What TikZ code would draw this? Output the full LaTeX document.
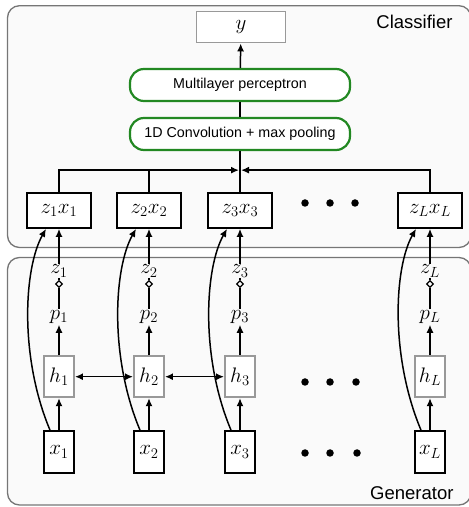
\documentclass[tikz,border=0pt]{standalone}
\usepackage{fix-cm}
\usepackage{fontspec}
\setsansfont{Liberation Sans}
\usetikzlibrary{positioning,arrows.meta,shapes.geometric}
\definecolor{layergreen}{RGB}{34,136,34}
\definecolor{panelgray}{RGB}{118,118,118}
\newcommand{\bigmath}{\fontsize{21}{25}\selectfont}
\tikzset{
  >={Latex[length=8pt,width=7pt]},
  panel/.style={
    draw=panelgray, line width=1.3pt,
    fill=black!2,
    rounded corners=12pt},
  panellabel/.style={anchor=east, font=\sffamily\fontsize{18.5}{21}\selectfont},
  pairbox/.style={
    rectangle, draw=black, line width=1.7pt, fill=white,
    minimum width=64pt, minimum height=35pt,
    inner sep=0pt, font=\bigmath},
  inbox/.style={pairbox, minimum width=30pt, minimum height=42pt},
  hidbox/.style={pairbox, draw=black!40, line width=1.9pt,
    minimum width=30pt, minimum height=41pt},
  outbox/.style={hidbox, minimum width=89pt, minimum height=31pt},
  layer/.style={
    rectangle, rounded corners=14pt,
    draw=layergreen, line width=2.2pt, fill=white,
    minimum width=220pt, minimum height=32pt,
    font=\sffamily\fontsize{14.3}{17}\selectfont},
  varlab/.style={inner sep=1pt, font=\bigmath},
  sel/.style={diamond, draw=black, line width=1.1pt, fill=white,
    minimum size=7pt, inner sep=0pt},
  edot/.style={circle, fill=black, minimum size=7.5pt, inner sep=0pt},
  link/.style={draw, line width=1.5pt},
}
\begin{document}
\begin{tikzpicture}[x=1pt,y=1pt]
\useasboundingbox (0,0) rectangle (469,507);
% panels
\draw[panel] (7.5,259.5) rectangle (471,501.3);
\draw[panel] (7.5,2) rectangle (471,249.5);
\node[panellabel] (cls) at (456,485) {Classifier};
\node[panellabel] (gen) at (457,14) {Generator};

% classifier
\node[outbox] (y) at (241,480) {$y$};
\node[layer] (mlp) at (240,422) {Multilayer perceptron};
\node[layer] (conv) at (240,373) {1D Convolution + max pooling};
\node[pairbox] (zx1) at (59,296.5) {$z_1x_1$};
\node[pairbox] (zx2) at (149,296.5) {$z_2x_2$};
\node[pairbox] (zx3) at (240,296.5) {$z_3x_3$};
\node[pairbox] (zxL) at (430,296.5) {$z_Lx_L$};
\node[edot] (ca) at (305,304) {};
\node[edot] (cb) at (330,304) {};
\node[edot] (cc) at (355,304) {};
\coordinate[above=22pt of zx3.north] (bus);

% generator
\node[inbox] (x1) at (59,55) {$x_1$};
\node[inbox] (x2) at (149,55) {$x_2$};
\node[inbox] (x3) at (240,55) {$x_3$};
\node[inbox] (xL) at (430,55) {$x_L$};
\node[hidbox, above=32pt of x1] (h1) {$h_1$};
\node[hidbox, above=32pt of x2] (h2) {$h_2$};
\node[hidbox, above=32pt of x3] (h3) {$h_3$};
\node[hidbox, above=32pt of xL] (hL) {$h_L$};
\node[edot] (ha) at (305,125) {};
\node[edot] (hb) at (330,125) {};
\node[edot] (hc) at (356,125) {};
\node[edot] (xa) at (305,54) {};
\node[edot] (xb) at (330,54) {};
\node[edot] (xc) at (357,54) {};

\node[varlab] (p1) at (59,190) {$p_1$};
\node[varlab] (p2) at (149,190) {$p_2$};
\node[varlab] (p3) at (240,190) {$p_3$};
\node[varlab] (pL) at (430,190) {$p_L$};
\node[sel] (s1) at (59,223) {};
\node[sel] (s2) at (149,223) {};
\node[sel] (s3) at (240,223) {};
\node[sel] (sL) at (430,223) {};
\node[varlab] (z1) at (59,236) {$z_1$};
\node[varlab] (z2) at (149,236) {$z_2$};
\node[varlab] (z3) at (240,236) {$z_3$};
\node[varlab] (zL) at (430,236) {$z_L$};

% classifier links
\path[link, ->] (mlp) -- (y);
\path[link] (conv) -- (mlp);
\path[link] (zx3) -- (conv);
\path[link, ->, shorten >=1pt] (zx1.north) |- (bus);
\path[link] (zx2.north) -- (zx2.north |- bus);
\path[link, ->, shorten >=1pt] (zxL.north) |- (bus);

% generator links
\path[link, ->] (x1) -- (h1);
\path[link, ->] (x2) -- (h2);
\path[link, ->] (x3) -- (h3);
\path[link, ->] (xL) -- (hL);
\path[link, <->] (h1) -- (h2);
\path[link, <->] (h2) -- (h3);
\path[link, ->] (h1) -- (p1);
\path[link, ->] (h2) -- (p2);
\path[link, ->] (h3) -- (p3);
\path[link, ->] (hL) -- (pL);
\path[link] (p1) -- (s1) -- (z1);
\path[link] (p2) -- (s2) -- (z2);
\path[link] (p3) -- (s3) -- (z3);
\path[link] (pL) -- (sL) -- (zL);
\path[link, ->] (z1) -- (zx1);
\path[link, ->] (z2) -- (zx2);
\path[link, ->] (z3) -- (zx3);
\path[link, ->] (zL) -- (zxL);

% skip links x -> zx
\path[link, ->] ([xshift=-9pt]x1.north) .. controls +(-31,74) and +(-22,-39) .. ([xshift=-13pt]zx1.south);
\path[link, ->] ([xshift=-9pt]x2.north) .. controls +(-31,74) and +(-22,-39) .. ([xshift=-13pt]zx2.south);
\path[link, ->] ([xshift=-9pt]x3.north) .. controls +(-31,74) and +(-22,-39) .. ([xshift=-13pt]zx3.south);
\path[link, ->] ([xshift=-9pt]xL.north) .. controls +(-31,74) and +(-22,-39) .. ([xshift=-14pt]zxL.south);
\end{tikzpicture}
\end{document}
